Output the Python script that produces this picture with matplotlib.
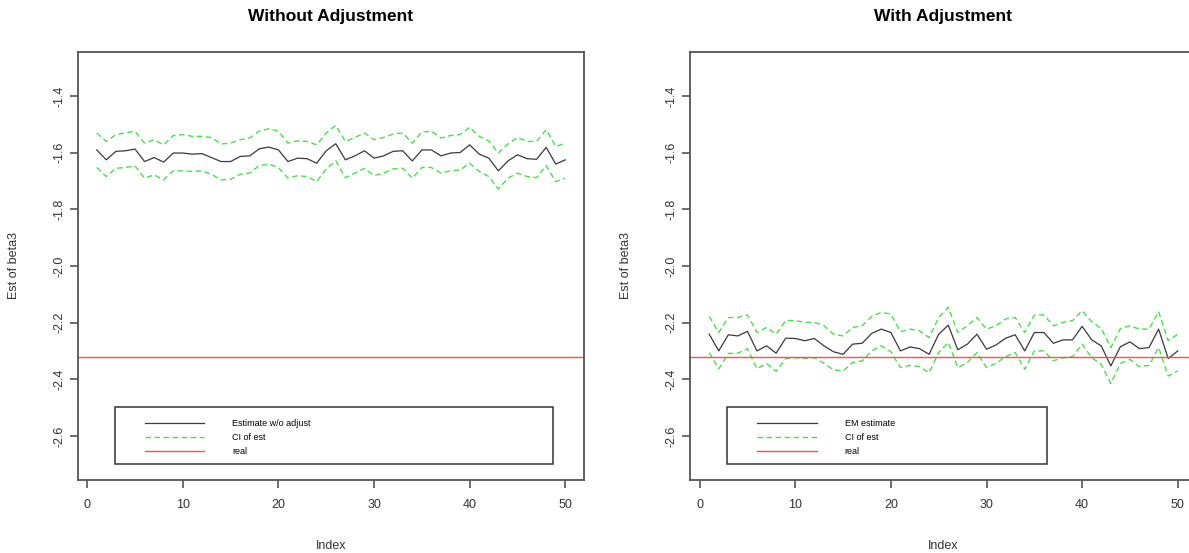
import matplotlib
matplotlib.use("Agg")
import matplotlib.pyplot as plt
from matplotlib.patches import Rectangle
import numpy as np

plt.rcParams['font.family'] = ['Liberation Sans', 'DejaVu Sans']

# Data
index = np.arange(1, 51)
real = -2.32

est_noadj = [-1.590, -1.625, -1.595, -1.593, -1.587, -1.631, -1.617, -1.633, -1.601, -1.601,
             -1.605, -1.603, -1.617, -1.631, -1.631, -1.613, -1.611, -1.586, -1.580, -1.590,
             -1.631, -1.619, -1.621, -1.637, -1.593, -1.568, -1.625, -1.611, -1.593, -1.619,
             -1.611, -1.595, -1.593, -1.629, -1.590, -1.590, -1.611, -1.601, -1.599, -1.572,
             -1.605, -1.619, -1.664, -1.629, -1.607, -1.621, -1.623, -1.581, -1.640, -1.625]
upper_noadj = [-1.530, -1.560, -1.536, -1.530, -1.524, -1.566, -1.554, -1.572, -1.539, -1.536,
               -1.542, -1.542, -1.546, -1.569, -1.566, -1.554, -1.548, -1.524, -1.515, -1.524,
               -1.566, -1.558, -1.560, -1.572, -1.530, -1.503, -1.560, -1.546, -1.530, -1.554,
               -1.546, -1.534, -1.530, -1.566, -1.527, -1.524, -1.548, -1.539, -1.536, -1.510,
               -1.542, -1.558, -1.601, -1.569, -1.546, -1.560, -1.560, -1.518, -1.578, -1.566]
lower_noadj = [-1.652, -1.684, -1.655, -1.652, -1.646, -1.690, -1.678, -1.696, -1.664, -1.664,
               -1.666, -1.664, -1.676, -1.696, -1.694, -1.676, -1.672, -1.645, -1.640, -1.652,
               -1.690, -1.681, -1.684, -1.702, -1.657, -1.629, -1.688, -1.672, -1.655, -1.681,
               -1.672, -1.657, -1.655, -1.690, -1.652, -1.652, -1.672, -1.664, -1.661, -1.637,
               -1.666, -1.684, -1.728, -1.690, -1.672, -1.684, -1.688, -1.645, -1.702, -1.690]

est_em = [-2.241, -2.300, -2.243, -2.247, -2.231, -2.300, -2.282, -2.308, -2.255, -2.256,
          -2.264, -2.256, -2.282, -2.303, -2.312, -2.276, -2.273, -2.238, -2.223, -2.235,
          -2.300, -2.286, -2.292, -2.312, -2.241, -2.209, -2.296, -2.276, -2.241, -2.294,
          -2.279, -2.255, -2.243, -2.300, -2.235, -2.235, -2.273, -2.261, -2.261, -2.213,
          -2.261, -2.282, -2.353, -2.285, -2.268, -2.292, -2.288, -2.223, -2.327, -2.300]
upper_em = [-2.178, -2.235, -2.182, -2.182, -2.173, -2.235, -2.217, -2.241, -2.193, -2.193,
            -2.199, -2.199, -2.211, -2.241, -2.247, -2.217, -2.211, -2.178, -2.164, -2.170,
            -2.232, -2.223, -2.229, -2.253, -2.182, -2.146, -2.235, -2.211, -2.182, -2.223,
            -2.211, -2.187, -2.182, -2.235, -2.173, -2.173, -2.211, -2.199, -2.193, -2.158,
            -2.197, -2.221, -2.288, -2.221, -2.211, -2.223, -2.223, -2.161, -2.264, -2.241]
lower_em = [-2.306, -2.363, -2.309, -2.308, -2.292, -2.363, -2.344, -2.372, -2.327, -2.324,
            -2.327, -2.324, -2.344, -2.367, -2.371, -2.341, -2.335, -2.300, -2.282, -2.303,
            -2.359, -2.351, -2.356, -2.377, -2.306, -2.270, -2.359, -2.341, -2.306, -2.359,
            -2.344, -2.320, -2.306, -2.365, -2.300, -2.300, -2.335, -2.324, -2.320, -2.276,
            -2.324, -2.347, -2.415, -2.344, -2.330, -2.356, -2.351, -2.288, -2.389, -2.371]

panels = [
    ("Without Adjustment", "Estimate w/o adjust", est_noadj, upper_noadj, lower_noadj, 0.866),
    ("With Adjustment", "EM estimate", est_em, upper_em, lower_em, 0.632),
]

fig = plt.figure(figsize=(11.89, 5.53), dpi=100)
positions = [[0.0656, 0.132, 0.4256, 0.774], [0.5807, 0.132, 0.4256, 0.774]]

axis_col = "#555555"
for pos, (title, est_label, est, up, lo, box_w) in zip(positions, panels):
    ax = fig.add_axes(pos)
    ax.plot(index, est, color="#3a3a3a", lw=0.9, label=est_label)
    ax.plot(index, up, color="#4ddd4d", lw=1.0, ls=(0, (4, 2.5)), label="CI of est")
    ax.plot(index, lo, color="#4ddd4d", lw=1.0, ls=(0, (4, 2.5)))
    ax.axhline(real, color="#ff4d4d", lw=1.0, label="real")

    ax.set_xlim(-0.96, 51.96)
    ax.set_ylim(-2.756, -1.244)
    ax.set_xticks([0, 10, 20, 30, 40, 50])
    ax.set_yticks([-2.6, -2.4, -2.2, -2.0, -1.8, -1.6, -1.4])
    ax.set_yticklabels(["-2.6", "-2.4", "-2.2", "-2.0", "-1.8", "-1.6", "-1.4"],
                       rotation=90, va="center")
    for s in ax.spines.values():
        s.set_color(axis_col)
        s.set_linewidth(1.3)
    ax.tick_params(axis="x", length=6, width=1.2, color=axis_col, pad=8,
                   labelsize=9, labelcolor="#333333")
    ax.tick_params(axis="y", length=6, width=1.2, color=axis_col, pad=3,
                   labelsize=9, labelcolor="#333333")

    ax.set_title(title, fontsize=12.5, fontweight="bold", y=1.082, va="center", pad=0)
    ax.set_xlabel("Index", fontsize=9, color="#333333")
    ax.xaxis.set_label_coords(0.5, -0.14)
    ax.set_ylabel("Est of beta3", fontsize=9, color="#333333")
    ax.yaxis.set_label_coords(-0.115, 0.5)

    # legend box
    ax.add_patch(Rectangle((0.073, 0.037), box_w, 0.133, transform=ax.transAxes,
                           fill=False, edgecolor="#333333", lw=1.1))
    ax.legend(loc="upper left", bbox_to_anchor=(0.132, 0.143), frameon=False,
              fontsize=6.5, borderpad=0, borderaxespad=0, handlelength=6.6,
              handletextpad=3.1, labelspacing=0.55)

plt.savefig("out.png", dpi=100)
